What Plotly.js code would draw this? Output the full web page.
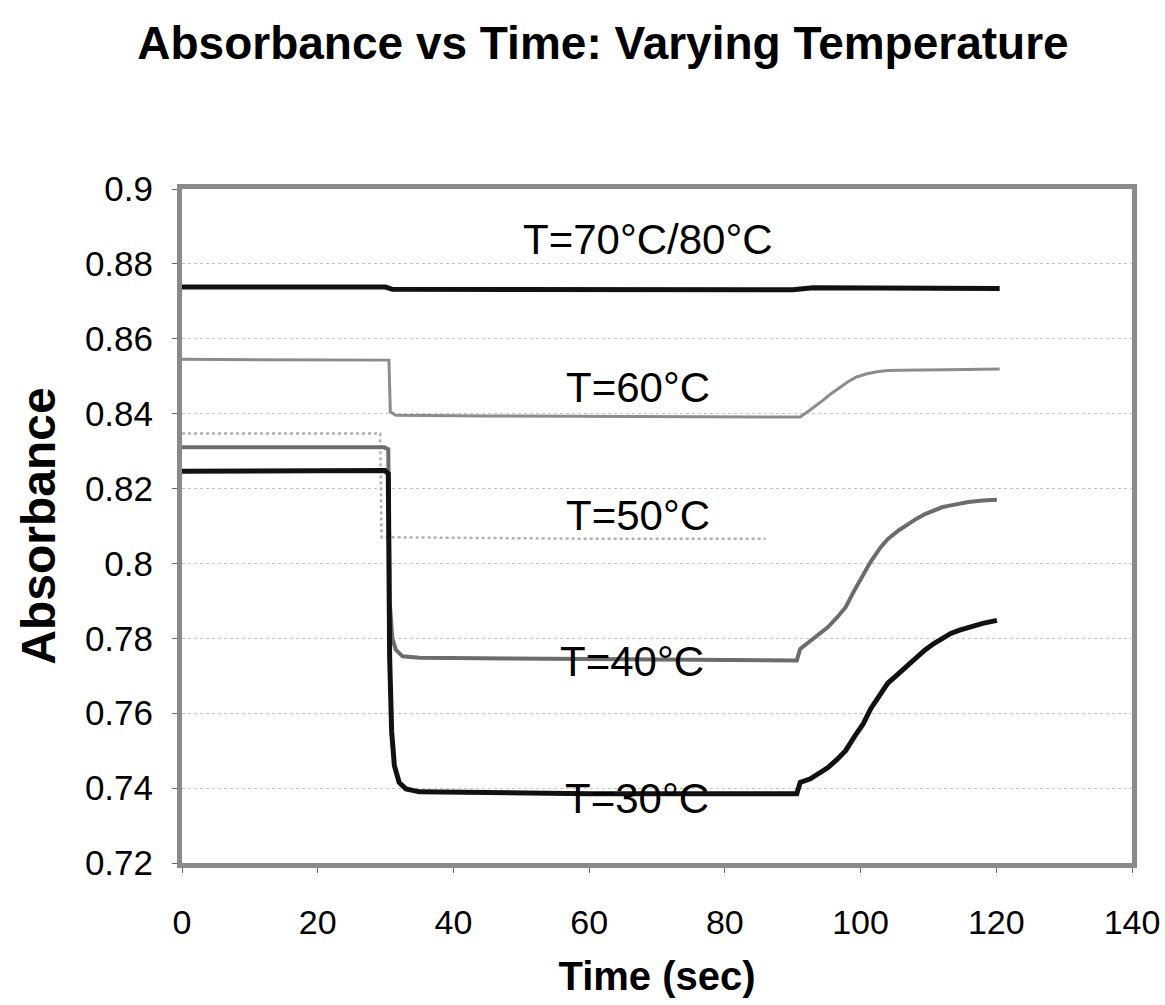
<!DOCTYPE html>
<html>
<head>
<meta charset="utf-8">
<script src="https://cdn.plot.ly/plotly-3.0.1.min.js"></script>
<style>
  html, body { margin: 0; padding: 0; background: #fff; }
  #chart { width: 1165px; height: 1005px; }
</style>
</head>
<body>
<div id="chart"></div>
<script>
// ---- Data ----
const seriesNames = ["T=70°C/80°C", "T=60°C", "T=50°C", "T=40°C", "T=30°C"];

const t70 = [0, 10, 20, 30, 31, 45, 60, 75, 90, 93, 97, 100, 110, 120.5];
const a70 = [0.8738, 0.8738, 0.8737, 0.8738, 0.8732, 0.8731, 0.8730, 0.8731, 0.8731, 0.8736, 0.8736, 0.8733, 0.8734, 0.8734];

const t60 = [0, 30.5, 30.7, 31.5, 45, 60, 75, 91.1, 92.5, 93.5, 94.5, 95.7, 97.0, 98.2, 99.4, 100.8, 102.4, 104.0, 105.8, 110.7, 115.6, 120.5];
const a60 = [0.8545, 0.8543, 0.8405, 0.8396, 0.8394, 0.8393, 0.8392, 0.8391, 0.8409, 0.8422, 0.8436, 0.8454, 0.8471, 0.8486, 0.8498, 0.8506, 0.8512, 0.8515, 0.8516, 0.8518, 0.8518, 0.8519];

const t50 = [0, 29.2, 29.4, 40, 60, 86];
const a50 = [0.8347, 0.8347, 0.8070, 0.8068, 0.8066, 0.8066];

const t40 = [0, 29.8, 30.4, 30.6, 31.0, 31.5, 32.5, 35, 60, 90.6, 91.1, 92.6, 94.0, 95.2, 96.5, 97.8, 99.0, 100.4, 101.5, 103.0, 104.0, 105.6, 107.0, 108.2, 109.5, 110.8, 112.0, 113.3, 115.9, 118.0, 120.1];
const a40 = [0.8310, 0.8310, 0.8305, 0.7900, 0.7800, 0.7770, 0.7752, 0.7748, 0.7745, 0.7741, 0.7772, 0.7794, 0.7812, 0.7830, 0.7855, 0.7883, 0.7925, 0.7972, 0.8005, 0.8044, 0.8065, 0.8088, 0.8105, 0.8119, 0.8132, 0.8142, 0.8150, 0.8155, 0.8164, 0.8168, 0.8170];

const t30 = [0, 29.9, 30.4, 30.6, 30.9, 31.3, 32.0, 33.0, 35, 60, 90.6, 91.1, 92.6, 94.0, 95.2, 96.5, 97.8, 99.0, 100.4, 101.5, 103.0, 104.0, 105.6, 107.0, 108.2, 109.5, 110.8, 112.0, 113.3, 114.6, 115.9, 118.0, 120.1];
const a30 = [0.8246, 0.8248, 0.8240, 0.7750, 0.7550, 0.7460, 0.7415, 0.7398, 0.7390, 0.7385, 0.7385, 0.7415, 0.7425, 0.7440, 0.7455, 0.7476, 0.7500, 0.7535, 0.7572, 0.7612, 0.7652, 0.7680, 0.7706, 0.7730, 0.7750, 0.7769, 0.7786, 0.7800, 0.7813, 0.7822, 0.7830, 0.7840, 0.7848];

// label anchor positions (data coords)
const labelT = [68.7, 67.2, 67.2, 66.3, 67.0];
const labelA = [0.8866, 0.8470, 0.8128, 0.7738, 0.7372];

const xTicks = [0, 20, 40, 60, 80, 100, 120, 140];
const yTicks = [0.72, 0.74, 0.76, 0.78, 0.8, 0.82, 0.84, 0.86, 0.88, 0.9];
const yTickText = ["0.72", "0.74", "0.76", "0.78", "0.8", "0.82", "0.84", "0.86", "0.88", "0.9"];

// ---- Styles ----
const FONT = '"Liberation Sans", Arial, Helvetica, sans-serif';
const styles = [
  {color: '#111111', width: 5, dash: 'solid'},
  {color: '#8c8c8c', width: 3, dash: 'solid'},
  {color: '#b0b0b0', width: 2.5, dash: 'dot'},
  {color: '#6c6c6c', width: 4, dash: 'solid'},
  {color: '#111111', width: 5, dash: 'solid'}
];
const xs = [t70, t60, t50, t40, t30];
const ys = [a70, a60, a50, a40, a30];

const traces = seriesNames.map((n, i) => ({
  type: 'scatter', mode: 'lines', name: n,
  x: xs[i], y: ys[i],
  line: {color: styles[i].color, width: styles[i].width, dash: styles[i].dash, shape: 'linear'},
  hoverinfo: 'x+y+name'
}));

const annotations = seriesNames.map((n, i) => ({
  x: labelT[i], y: labelA[i], xref: 'x', yref: 'y',
  text: n, showarrow: false,
  font: {family: FONT, size: 42, color: '#000'},
  xanchor: 'center', yanchor: 'middle'
}));

const layout = {
  width: 1165, height: 1005,
  paper_bgcolor: '#ffffff', plot_bgcolor: '#ffffff',
  margin: {l: 182, r: 33, t: 189, b: 142},
  showlegend: false,
  title: {
    text: '<b>Absorbance vs Time: Varying Temperature</b>',
    font: {family: FONT, size: 46, color: '#000'},
    x: 0.5176, xanchor: 'center', xref: 'container',
    y: 1 - 43 / 1005, yanchor: 'middle', yref: 'container'
  },
  xaxis: {
    range: [0, 140], tickmode: 'array', tickvals: xTicks,
    ticktext: xTicks.map(String),
    tickfont: {family: FONT, size: 34, color: '#000'},
    ticks: 'outside', ticklen: 5, tickcolor: '#666', tickwidth: 1,
    ticklabelstandoff: 20,
    showgrid: false, zeroline: false,
    showline: true, linecolor: '#8a8a8a', linewidth: 5, mirror: true,
    title: {text: '<b>Time (sec)</b>', font: {family: FONT, size: 40, color: '#000'}, standoff: 24}
  },
  yaxis: {
    range: [0.72, 0.9], tickmode: 'array', tickvals: yTicks, ticktext: yTickText,
    tickfont: {family: FONT, size: 35, color: '#000'},
    ticks: 'outside', ticklen: 5, tickcolor: '#666', tickwidth: 1,
    ticklabelstandoff: 12,
    showgrid: true, gridcolor: '#c4c4c4', gridwidth: 1, griddash: 'dot',
    zeroline: false,
    showline: true, linecolor: '#8a8a8a', linewidth: 5, mirror: true,
    title: {text: '<b>Absorbance</b>', font: {family: FONT, size: 48, color: '#000'}, standoff: 16}
  },
  annotations: annotations
};

Plotly.newPlot('chart', traces, layout, {displayModeBar: false, staticPlot: true});
</script>
</body>
</html>
